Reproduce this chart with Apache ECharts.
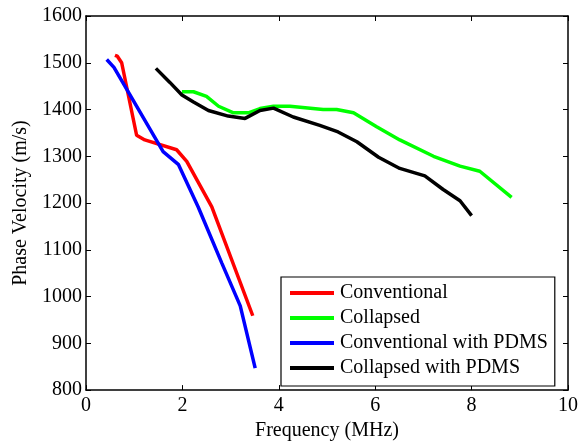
<!DOCTYPE html>
<html>
<head>
<meta charset="utf-8">
<script src="https://cdn.jsdelivr.net/npm/echarts@6/dist/echarts.min.js"></script>
<style>html,body{margin:0;padding:0;background:#fff}#c{width:588px;height:446px}</style>
</head>
<body>
<div id="c"></div>
<script>
var seriesNames = ['Conventional', 'Collapsed', 'Conventional with PDMS', 'Collapsed with PDMS'];
var seriesColors = ['#ff0000', '#00ff00', '#0000ff', '#000000'];

var convFreq = [0.60, 0.65, 0.74, 1.05, 1.22, 1.88, 2.09, 2.61, 3.46];
var convVel  = [1516, 1514, 1500, 1345, 1335, 1314, 1289, 1192, 959];

var collFreq = [1.99, 2.23, 2.50, 2.75, 3.06, 3.37, 3.61, 3.89, 4.23, 4.92, 5.20, 5.55, 6.03, 6.51, 7.21, 7.76, 8.17, 8.83];
var collVel  = [1438, 1438, 1428, 1407, 1393, 1393, 1402, 1407, 1407, 1400, 1400, 1393, 1363, 1335, 1300, 1279, 1268, 1212];

var convPdmsFreq = [0.43, 0.58, 1.60, 1.92, 2.33, 2.82, 3.20, 3.51];
var convPdmsVel  = [1507, 1490, 1310, 1282, 1191, 1071, 980, 847];

var collPdmsFreq = [1.45, 1.74, 1.99, 2.23, 2.54, 2.95, 3.30, 3.61, 3.89, 4.30, 4.85, 5.23, 5.62, 6.07, 6.51, 7.03, 7.41, 7.76, 8.00];
var collPdmsVel  = [1488, 1458, 1431, 1416, 1398, 1386, 1381, 1398, 1403, 1384, 1366, 1352, 1331, 1298, 1274, 1258, 1229, 1205, 1173];

var xTicks = [0, 2, 4, 6, 8, 10];
var yTicks = [800, 900, 1000, 1100, 1200, 1300, 1400, 1500, 1600];

function zip(a, b) { return a.map(function (v, i) { return [v, b[i]]; }); }
var allData = [zip(convFreq, convVel), zip(collFreq, collVel), zip(convPdmsFreq, convPdmsVel), zip(collPdmsFreq, collPdmsVel)];

var FONT = 'Liberation Serif';
var chart = echarts.init(document.getElementById('c'), null, {renderer: 'canvas'});

var axisCommon = {
  type: 'value',
  axisLine: {show: true, onZero: false, lineStyle: {color: '#000', width: 1.5}},
  axisTick: {show: true, inside: true, length: 5, lineStyle: {color: '#000', width: 1}},
  splitLine: {show: false}
};

chart.setOption({
  animation: false,
  backgroundColor: '#fff',
  grid: {left: 86, right: 20, top: 16, bottom: 51, containLabel: false},
  xAxis: [
    Object.assign({}, axisCommon, {
      position: 'bottom', min: xTicks[0], max: xTicks[xTicks.length - 1], interval: 2,
      axisLabel: {color: '#000', fontFamily: FONT, fontSize: 20, margin: 6, formatter: function (v) { return String(v); }},
      name: 'Frequency (MHz)', nameLocation: 'middle', nameGap: 26,
      nameTextStyle: {color: '#000', fontFamily: FONT, fontSize: 20}
    }),
    Object.assign({}, axisCommon, {
      position: 'top', min: xTicks[0], max: xTicks[xTicks.length - 1], interval: 2,
      axisLabel: {show: false}
    })
  ],
  yAxis: [
    Object.assign({}, axisCommon, {
      position: 'left', min: yTicks[0], max: yTicks[yTicks.length - 1], interval: 100,
      axisLabel: {color: '#000', fontFamily: FONT, fontSize: 20, margin: 4, formatter: function (v) { return String(v); }},
      name: 'Phase Velocity (m/s)', nameLocation: 'middle', nameGap: 54, nameRotate: 90,
      nameTextStyle: {color: '#000', fontFamily: FONT, fontSize: 20}
    }),
    Object.assign({}, axisCommon, {
      position: 'right', min: yTicks[0], max: yTicks[yTicks.length - 1], interval: 100,
      axisLabel: {show: false}
    })
  ],
  legend: {
    orient: 'vertical',
    left: 281, top: 277,
    data: seriesNames.map(function (n) { return {name: n, icon: 'rect'}; }),
    itemWidth: 44, itemHeight: 4, itemGap: 5,
    padding: [6, 7, 8, 9],
    borderColor: '#000', borderWidth: 1.2,
    backgroundColor: '#fff',
    textStyle: {color: '#000', fontFamily: FONT, fontSize: 20, lineHeight: 20, padding: [0, 0, 0, 1]}
  },
  series: seriesNames.map(function (n, i) {
    return {
      name: n, type: 'line', data: allData[i], showSymbol: false, symbol: 'none',
      lineStyle: {color: seriesColors[i], width: 3.5},
      itemStyle: {color: seriesColors[i]}
    };
  })
});
</script>
</body>
</html>
